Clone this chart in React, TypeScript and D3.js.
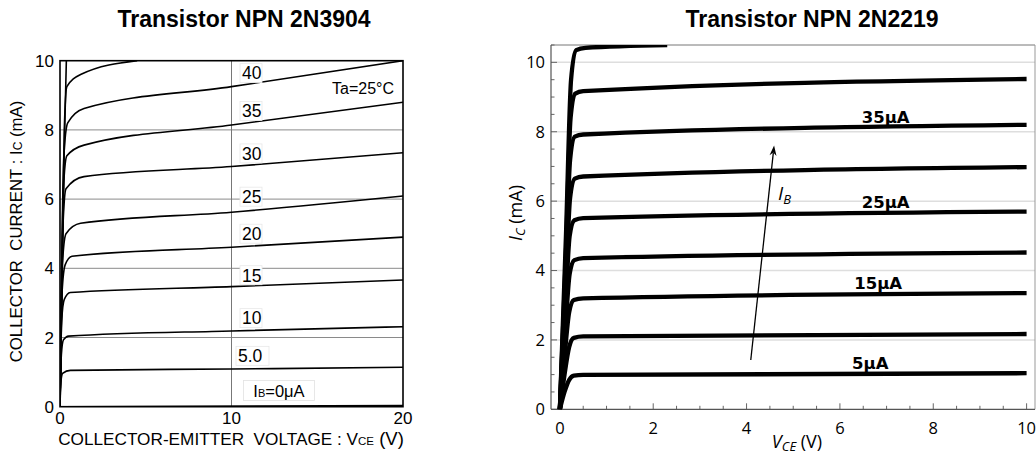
import React from 'react';
import * as d3 from 'd3';

// ---- 2N3904 (left) : [VCE (V), IC (mA)] points ----
const leftCurves = [
  { ib: 0, pts: [[0, 0], [20, 0.03]] },
  { ib: 5, pts: [[0, 0], [0.05, 0.7], [0.15, 0.96], [0.6, 1.05], [10, 1.09], [20, 1.14]] },
  { ib: 10, pts: [[0, 0], [0.08, 1.5], [0.2, 1.93], [0.5, 2.04], [10, 2.19], [20, 2.31]] },
  { ib: 15, pts: [[0, 0], [0.1, 2.5], [0.25, 3.1], [0.6, 3.3], [10, 3.47], [20, 3.66]] },
  { ib: 20, pts: [[0, 0], [0.12, 3.3], [0.3, 4.1], [0.7, 4.35], [10, 4.61], [20, 4.9]] },
  { ib: 25, pts: [[0, 0], [0.15, 4.2], [0.35, 5.0], [1.2, 5.3], [10, 5.62], [20, 6.09]] },
  { ib: 30, pts: [[0, 0], [0.18, 5.3], [0.35, 6.3], [1.4, 6.65], [10, 6.94], [20, 7.34]] },
  { ib: 35, pts: [[0, 0], [0.2, 6.3], [0.4, 7.25], [1.4, 7.56], [10, 8.14], [20, 8.8]] },
  { ib: 40, pts: [[0, 0], [0.22, 7.2], [0.45, 8.2], [1.4, 8.62], [10, 9.25], [20, 10]] },
  { ib: 45, pts: [[0, 0], [0.25, 8.0], [0.4, 9.25], [1.2, 9.6], [4.5, 10]] },
  { ib: 50, pts: [[0, 0], [0.25, 7.5], [0.38, 10.2]] },
];
const leftXTicks = [0, 10, 20];
const leftYTicks = [0, 2, 4, 6, 8, 10];
const leftGridY = [2, 4, 6, 8];
const leftGridX = [10];
const leftLabels = ['5.0', '10', '15', '20', '25', '30', '35', '40'];
const leftLabelY = [1.47, 2.56, 3.8, 5.0, 6.07, 7.32, 8.55, 9.64];

// ---- 2N2219 (right) ----
const rightCurves = [
  { ib: 5, pts: [[0, 0], [0.1, 0.5], [0.2, 0.85], [0.3, 0.97], [0.5, 0.99], [10, 1.04]] },
  { ib: 10, pts: [[0, 0], [0.1, 1.0], [0.2, 1.8], [0.3, 2.06], [0.5, 2.1], [10, 2.17]] },
  { ib: 15, pts: [[0, 0], [0.1, 1.5], [0.2, 2.8], [0.3, 3.15], [0.5, 3.2], [10, 3.35]] },
  { ib: 20, pts: [[0, 0], [0.11, 2.1], [0.21, 3.9], [0.31, 4.3], [0.5, 4.36], [10, 4.52]] },
  { ib: 25, pts: [[0, 0], [0.11, 2.6], [0.21, 5.0], [0.31, 5.45], [0.5, 5.51], [10, 5.7]] },
  { ib: 30, pts: [[0, 0], [0.12, 3.3], [0.22, 6.1], [0.32, 6.65], [0.5, 6.71], [10, 6.98]] },
  { ib: 35, pts: [[0, 0], [0.12, 3.8], [0.22, 7.2], [0.32, 7.86], [0.5, 7.92], [10, 8.2]] },
  { ib: 40, pts: [[0, 0], [0.13, 4.5], [0.23, 8.4], [0.33, 9.1], [0.5, 9.17], [10, 9.52]] },
  { ib: 45, pts: [[0, 0], [0.13, 5.0], [0.24, 9.5], [0.35, 10.35], [0.55, 10.42], [2.3, 10.5]] },
];
const rightXTicks = [0, 2, 4, 6, 8, 10];
const rightYTicks = [0, 2, 4, 6, 8, 10];
const rightGridY = [2, 4, 6, 8, 10];
const rightLabels = ['5μA', '15μA', '25μA', '35μA'];
const rightLabelPos = [[6.65, 1.34], [6.82, 3.64], [6.98, 5.96], [6.98, 8.43]];
const arrowFrom = [4.09, 1.42];
const arrowTo = [4.59, 7.6];

const W = 1036;
const H = 456;

export default function App() {
  const xL = d3.scaleLinear().domain([0, 20]).range([60, 403]);
  const yL = d3.scaleLinear().domain([0, 10]).range([406.7, 60.7]);
  const xR = d3.scaleLinear().domain([-0.19, 10.18]).range([551, 1035]);
  const yR = d3.scaleLinear().domain([0, 10.5]).range([409.3, 45]);

  const lineL = d3.line<number[]>().x(d => xL(d[0])).y(d => yL(d[1])).curve(d3.curveMonotoneX);
  const lineR = d3.line<number[]>().x(d => xR(d[0])).y(d => yR(d[1])).curve(d3.curveMonotoneX);

  const arial = "'Liberation Sans', Arial, sans-serif";
  const open = "'Open Sans', 'DejaVu Sans', sans-serif";

  const minorX = d3.range(0, 10.01, 0.5);
  const minorY = d3.range(0, 10.51, 0.5);

  const ax = xR(arrowFrom[0]), ay = yR(arrowFrom[1]);
  const bx = xR(arrowTo[0]), by = yR(arrowTo[1]);
  const ang = Math.atan2(by - ay, bx - ax);
  const hl = 10, hw = 3.5;
  const head = [
    [bx, by],
    [bx - hl * Math.cos(ang) + hw * Math.sin(ang), by - hl * Math.sin(ang) - hw * Math.cos(ang)],
    [bx - hl * 0.7 * Math.cos(ang), by - hl * 0.7 * Math.sin(ang)],
    [bx - hl * Math.cos(ang) - hw * Math.sin(ang), by - hl * Math.sin(ang) + hw * Math.cos(ang)],
  ];

  return (
    <svg width={W} height={H} style={{ position: 'absolute', left: 0, top: 0, background: '#fff' }}>
      <defs>
        <clipPath id="clipL">
          <rect x={60} y={60.7} width={343} height={346} />
        </clipPath>
        <clipPath id="clipR">
          <rect x={551} y={45} width={484} height={364.3} />
        </clipPath>
      </defs>

      {/* ---------- left chart ---------- */}
      <text x={244} y={27} textAnchor="middle" fontFamily={arial} fontWeight="bold" fontSize={23}>
        Transistor NPN 2N3904
      </text>
      {leftGridY.map(v => (
        <line key={'gy' + v} x1={xL(0)} x2={xL(20)} y1={yL(v)} y2={yL(v)} stroke="#8a8a8a" strokeWidth={1} />
      ))}
      {leftGridX.map(v => (
        <line key={'gx' + v} x1={xL(v)} x2={xL(v)} y1={yL(0)} y2={yL(10)} stroke="#777" strokeWidth={1} />
      ))}
      <g clipPath="url(#clipL)">
        {leftCurves.map(c => (
          <path key={c.ib} d={lineL(c.pts) || ''} fill="none" stroke="#000" strokeWidth={1.6} />
        ))}
      </g>
      <rect x={xL(0)} y={yL(10)} width={xL(20) - xL(0)} height={yL(0) - yL(10)} fill="none" stroke="#000" strokeWidth={1.6} />
      {leftLabels.map((t, i) => {
        const wdt = t.length === 3 ? 33 : 22;
        const x0 = t.length === 3 ? 238 : 242;
        return (
          <g key={t}>
            <rect x={x0 - 2} y={yL(leftLabelY[i]) - 9.5} width={wdt} height={19} fill="#fff" stroke="#e8e8e8" strokeWidth={0.8} />
            <text x={x0} y={yL(leftLabelY[i])} dy="0.36em" fontFamily={arial} fontSize={17.5}>{t}</text>
          </g>
        );
      })}
      <rect x={243.5} y={380.5} width={71} height={20} fill="#fff" stroke="#e2e2e2" strokeWidth={0.8} />
      <text x={279} y={391} dy="0.36em" textAnchor="middle" fontFamily={arial} fontSize={16.5}>
        I<tspan fontSize={11}>B</tspan>=0μA
      </text>
      <text x={394} y={88.5} dy="0.36em" textAnchor="end" fontFamily={arial} fontSize={16}>Ta=25°C</text>
      {leftYTicks.map(v => (
        <text key={'ly' + v} x={54} y={yL(v)} dy="0.36em" textAnchor="end" fontFamily={arial} fontSize={17}>{v}</text>
      ))}
      {leftXTicks.map(v => (
        <text key={'lx' + v} x={xL(v)} y={418} dy="0.36em" textAnchor="middle" fontFamily={arial} fontSize={17}>{v}</text>
      ))}
      <text x={231} y={438.5} dy="0.36em" textAnchor="middle" fontFamily={arial} fontSize={17.2}>
        {'COLLECTOR-EMITTER\u00a0\u00a0VOLTAGE : V'}<tspan fontSize={11.5}>CE</tspan><tspan fontSize={18.5}> (V)</tspan>
      </text>
      <text transform="translate(16,231.5) rotate(-90)" dy="0.36em" textAnchor="middle" fontFamily={arial} fontSize={16.8}>
        {'COLLECTOR\u00a0\u00a0CURRENT : I'}<tspan fontSize={12}>C</tspan> (mA)
      </text>

      {/* ---------- right chart ---------- */}
      <text x={812} y={27} textAnchor="middle" fontFamily={arial} fontWeight="bold" fontSize={23}>
        Transistor NPN 2N2219
      </text>
      {rightGridY.map(v => (
        <line key={'rgy' + v} x1={551} x2={1035} y1={yR(v)} y2={yR(v)} stroke="#dedede" strokeWidth={1.5} />
      ))}
      <line x1={551} x2={1035} y1={45} y2={45} stroke="#777" strokeWidth={1} />
      <line x1={1035} x2={1035} y1={45} y2={409.3} stroke="#999" strokeWidth={1} />
      {minorX.map(v => {
        const major = Math.abs(v % 2) < 1e-9;
        return <line key={'mx' + v} x1={xR(v)} x2={xR(v)} y1={409.3} y2={409.3 - (major ? 6 : 3.5)} stroke="#666" strokeWidth={1} />;
      })}
      {minorY.map(v => {
        const major = Math.abs(v % 2) < 1e-9;
        return <line key={'my' + v} x1={551} x2={551 + (major ? 6 : 3.5)} y1={yR(v)} y2={yR(v)} stroke="#666" strokeWidth={1} />;
      })}
      <line x1={551} x2={551} y1={45} y2={409.3} stroke="#555" strokeWidth={1.2} />
      <line x1={551} x2={1035} y1={409.3} y2={409.3} stroke="#555" strokeWidth={1.2} />
      <g clipPath="url(#clipR)">
        {rightCurves.map(c => (
          <path key={c.ib} d={lineR(c.pts) || ''} fill="none" stroke="#000" strokeWidth={4.3} />
        ))}
      </g>
      {rightLabels.map((t, i) => (
        <text key={t} x={xR(rightLabelPos[i][0])} y={yR(rightLabelPos[i][1])} dy="0.36em" textAnchor="middle"
          fontFamily="'DejaVu Sans', sans-serif" fontWeight="bold" fontSize={16.5}>{t}</text>
      ))}
      <line x1={ax} y1={ay} x2={xR(arrowTo[0]) - 7 * Math.cos(ang)} y2={yR(arrowTo[1]) - 7 * Math.sin(ang)} stroke="#000" strokeWidth={1.3} />
      <polygon points={head.map(p => p.join(',')).join(' ')} fill="#000" />
      <text x={778} y={193} dy="0.36em" fontFamily={open} fontStyle="italic" fontSize={19}>
        I<tspan fontSize={13} dy={4}>B</tspan>
      </text>
      {rightYTicks.map(v => (
        <text key={'ry' + v} x={545} y={yR(v)} dy="0.36em" textAnchor="end" fontFamily={open} fontSize={16.5}>{v}</text>
      ))}
      {rightXTicks.map(v => (
        <text key={'rx' + v} x={xR(v)} y={428} dy="0.36em" textAnchor="middle" fontFamily={open} fontSize={16.5}>{v}</text>
      ))}
      <text x={797} y={448} textAnchor="middle" fontFamily={open} fontSize={18}>
        <tspan fontStyle="italic">V</tspan><tspan fontStyle="italic" fontSize={13} dy={3}>CE</tspan><tspan dy={-3}> (V)</tspan>
      </text>
      <text transform="translate(516,213) rotate(-90)" dy="0.36em" textAnchor="middle" fontFamily={open} fontSize={18}>
        <tspan fontStyle="italic">I</tspan><tspan fontStyle="italic" fontSize={13} dy={3}>C</tspan><tspan dy={-3}> (mA)</tspan>
      </text>
    </svg>
  );
}
